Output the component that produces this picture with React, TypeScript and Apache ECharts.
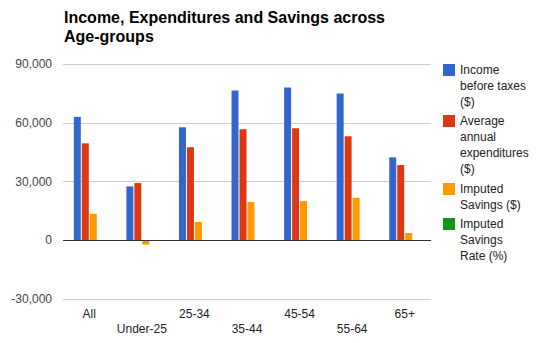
import React, { useEffect, useRef } from "react";
import * as echarts from "echarts";

const categories = ["All", "Under-25", "25-34", "35-44", "45-54", "55-64", "65+"];
const income = [63000, 27500, 57700, 76500, 78000, 75000, 42300];
const expenditures = [49500, 29200, 47500, 56700, 57200, 53100, 38400];
const savings = [13500, -2200, 9300, 19500, 20000, 21700, 3700];
const savingsRate = [21, -8, 16, 25, 26, 29, 9];
const yTicks = { min: -30000, max: 90000, interval: 30000 };

const seriesNames = [
  "Income before taxes ($)",
  "Average annual expenditures ($)",
  "Imputed Savings ($)",
  "Imputed Savings Rate (%)",
];
const legendLabels = [
  "Income\nbefore taxes\n($)",
  "Average\nannual\nexpenditures\n($)",
  "Imputed\nSavings ($)",
  "Imputed\nSavings\nRate (%)",
];
const colors = ["#3366cc", "#dc3912", "#ff9900", "#109618"];

const FONT = 'Arial, "Liberation Sans", sans-serif';

export default function App() {
  const ref = useRef<HTMLDivElement>(null);
  useEffect(() => {
    if (!ref.current) return;
    const chart = echarts.init(ref.current, null, { renderer: "svg" });
    const values = [income, expenditures, savings, savingsRate];
    const LH = 16;
    const iconTops = [64, 115, 183, 218];
    const legends = legendLabels.map((lbl, i) => {
      const n = lbl.split("\n").length;
      // prepend blank lines so the first real line sits level with the icon
      const text = "\n".repeat(n - 1) + lbl;
      return {
        orient: "vertical",
        left: 443,
        top: iconTops[i] - (8 * (2 * n - 1) - 6),
        padding: 0,
        itemWidth: 12,
        itemHeight: 12,
        selectedMode: false,
        icon: "rect",
        formatter: () => text,
        data: [seriesNames[i]],
        textStyle: {
          fontFamily: FONT,
          fontSize: 12,
          color: "#222",
          lineHeight: LH,
        },
      };
    });
    chart.setOption({
      animation: false,
      textStyle: { fontFamily: FONT },
      title: {
        text: "Income, Expenditures and Savings across\nAge-groups",
        left: 64,
        top: 8,
        padding: 0,
        textStyle: {
          fontFamily: FONT,
          fontSize: 16,
          fontWeight: "bold",
          color: "#000",
          lineHeight: 19,
        },
      },
      legend: legends,
      grid: { left: 63, right: 106, top: 64, bottom: 44, containLabel: false },
      xAxis: {
        type: "category",
        data: categories,
        axisLine: { show: false, onZero: false },
        axisTick: { show: false },
        axisLabel: {
          interval: 0,
          margin: 7,
          fontSize: 12,
          lineHeight: 15,
          color: "#222",
          fontFamily: FONT,
          formatter: (v: string, idx: number) => (idx % 2 ? "\n" + v : v),
        },
      },
      yAxis: {
        type: "value",
        min: yTicks.min,
        max: yTicks.max,
        interval: yTicks.interval,
        axisLine: { show: false },
        axisTick: { show: false },
        splitLine: { lineStyle: { color: "#cccccc", width: 1 } },
        axisLabel: {
          fontSize: 12,
          color: "#444",
          margin: 11,
          fontFamily: FONT,
          formatter: (v: number) => v.toLocaleString("en-US"),
        },
      },
      series: seriesNames.map((name, i) => ({
        name,
        type: "bar",
        data: values[i],
        barWidth: 7,
        barGap: "14%",
        itemStyle: { color: colors[i] },
        ...(i === 0
          ? {
              markLine: {
                silent: true,
                symbol: "none",
                label: { show: false },
                lineStyle: { color: "#333", width: 1, type: "solid" },
                data: [{ yAxis: 0 }],
              },
            }
          : {}),
      })),
    });
    return () => chart.dispose();
  }, []);
  return (
    <div
      ref={ref}
      style={{ position: "fixed", left: 0, top: 0, width: 537, height: 343, background: "#fff" }}
    />
  );
}
